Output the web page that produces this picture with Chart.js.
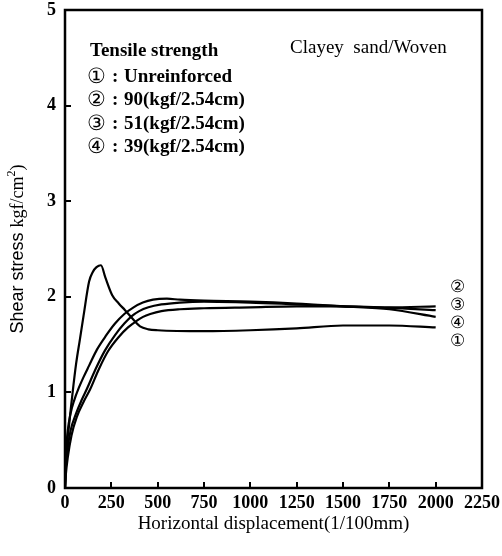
<!DOCTYPE html>
<html>
<head>
<meta charset="utf-8">
<script src="https://cdn.jsdelivr.net/npm/chart.js@4.4.1/dist/chart.umd.min.js"></script>
<style>
  html, body { margin: 0; padding: 0; background: #fff; }
  canvas { display: block; }
</style>
</head>
<body>
<canvas id="shearChart" width="502" height="556"></canvas>
<script>
// tick values
const xTicks = [0, 250, 500, 750, 1000, 1250, 1500, 1750, 2000, 2250];
const yTicks = [0, 1, 2, 3, 4, 5];

// (1) unreinforced
const dispUnreinforced = [0, 5, 20, 40, 60, 80, 100, 130, 150, 170, 194, 218, 254, 290, 324, 360, 405, 450, 500, 750, 1000, 1250, 1500, 1750, 2000];
const stressUnreinforced = [0, 0.3, 0.62, 0.98, 1.3, 1.55, 1.8, 2.16, 2.26, 2.31, 2.33, 2.2, 2.02, 1.93, 1.86, 1.78, 1.69, 1.66, 1.65, 1.64, 1.65, 1.67, 1.70, 1.70, 1.68];

// (2) 90 kgf/2.54cm
const disp90 = [0, 5, 15, 35, 65, 100, 135, 182, 232, 290, 340, 388, 421, 460, 520, 620, 750, 1000, 1250, 1500, 1750, 2000];
const stress90 = [0, 0.15, 0.32, 0.55, 0.75, 0.9, 1.03, 1.24, 1.43, 1.58, 1.68, 1.75, 1.79, 1.82, 1.85, 1.87, 1.88, 1.89, 1.90, 1.90, 1.89, 1.90];

// (3) 51 kgf/2.54cm
const disp51 = [0, 5, 15, 30, 60, 90, 119, 164, 216, 270, 320, 362, 400, 450, 520, 620, 750, 1000, 1250, 1500, 1750, 2000];
const stress51 = [0, 0.22, 0.42, 0.6, 0.78, 0.92, 1.04, 1.24, 1.44, 1.60, 1.72, 1.80, 1.85, 1.89, 1.92, 1.94, 1.95, 1.94, 1.92, 1.90, 1.885, 1.86];

// (4) 39 kgf/2.54cm
const disp39 = [0, 5, 15, 30, 50, 75, 100, 130, 173, 220, 270, 320, 370, 420, 475, 550, 620, 750, 1000, 1250, 1500, 1750, 2000];
const stress39 = [0, 0.35, 0.6, 0.78, 0.92, 1.05, 1.16, 1.28, 1.45, 1.59, 1.72, 1.82, 1.89, 1.94, 1.97, 1.98, 1.97, 1.96, 1.95, 1.93, 1.90, 1.87, 1.79];

const legendMarks = ['\u2460', '\u2461', '\u2462', '\u2463'];
const legendTexts = ['Unreinforced', '90(kgf/2.54cm)', '51(kgf/2.54cm)', '39(kgf/2.54cm)'];
const endLabels = ['\u2461', '\u2462', '\u2463', '\u2460'];

const serif = '"Liberation Serif", "Times New Roman", serif';
const sans = '"Liberation Sans", Arial, sans-serif';

function toPoints(xs, ys) {
  return xs.map((v, i) => ({ x: v, y: ys[i] }));
}

function makeSet(label, xs, ys) {
  return {
    label: label,
    data: toPoints(xs, ys),
    borderColor: '#000',
    borderWidth: 2.2,
    pointRadius: 0,
    fill: false,
    cubicInterpolationMode: 'monotone'
  };
}

// box, inward ticks and all the text
const decorations = {
  id: 'decorations',
  afterDraw(chart) {
    const ctx = chart.ctx;
    const a = chart.chartArea;
    const x = chart.scales.x;
    const y = chart.scales.y;
    ctx.save();
    ctx.strokeStyle = '#000';
    ctx.lineWidth = 2.5;
    ctx.strokeRect(a.left, a.top, a.right - a.left, a.bottom - a.top);

    ctx.lineWidth = 2;
    ctx.beginPath();
    xTicks.forEach(v => {
      if (v <= 0 || v >= 2250) return;
      const px = Math.round(x.getPixelForValue(v));
      ctx.moveTo(px, a.bottom);
      ctx.lineTo(px, a.bottom - 6);
    });
    yTicks.forEach(v => {
      if (v <= 0 || v >= 5) return;
      const py = Math.round(y.getPixelForValue(v));
      ctx.moveTo(a.left, py);
      ctx.lineTo(a.left + 6, py);
    });
    ctx.stroke();

    ctx.fillStyle = '#000';
    ctx.textBaseline = 'middle';
    ctx.textAlign = 'left';

    ctx.font = 'bold 19px ' + serif;
    ctx.fillText('Tensile strength', 90, 51);
    legendTexts.forEach((t, i) => {
      const ly = 77 + i * 23.5;
      ctx.font = '21px ' + serif;
      ctx.fillText(legendMarks[i], 87, ly);
      ctx.font = 'bold 19px ' + serif;
      ctx.fillText(':', 112, ly);
      ctx.fillText(t, 124, ly);
    });
    ctx.font = '19px ' + serif;
    ctx.fillText('Clayey  sand/Woven', 290, 48);

    ctx.font = '17px ' + serif;
    ctx.textAlign = 'center';
    endLabels.forEach((t, i) => ctx.fillText(t, 457, 288 + i * 18));

    // x title
    ctx.font = '19px ' + serif;
    ctx.fillText('Horizontal displacement(1/100mm)', (a.left + a.right) / 2, 524);

    // y title, rotated
    ctx.translate(18, (a.top + a.bottom) / 2);
    ctx.rotate(-Math.PI / 2);
    const parts = [
      { t: 'Shear stress ', f: '18px ' + sans, dy: 0 },
      { t: 'kgf/cm', f: '18px ' + serif, dy: 0 },
      { t: '2', f: '12px ' + serif, dy: -6 },
      { t: ')', f: '18px ' + serif, dy: 0 }
    ];
    let total = 0;
    parts.forEach(p => { ctx.font = p.f; p.w = ctx.measureText(p.t).width; total += p.w; });
    let cx = -total / 2;
    ctx.textAlign = 'left';
    parts.forEach(p => {
      ctx.font = p.f;
      ctx.fillText(p.t, cx, p.dy);
      cx += p.w;
    });
    ctx.restore();
  }
};

new Chart(document.getElementById('shearChart'), {
  type: 'line',
  data: {
    datasets: [
      makeSet('Unreinforced', dispUnreinforced, stressUnreinforced),
      makeSet('90(kgf/2.54cm)', disp90, stress90),
      makeSet('51(kgf/2.54cm)', disp51, stress51),
      makeSet('39(kgf/2.54cm)', disp39, stress39)
    ]
  },
  options: {
    responsive: false,
    animation: false,
    devicePixelRatio: 1,
    layout: { padding: { left: 0, right: 20, top: 10, bottom: 0 } },
    plugins: {
      legend: { display: false },
      tooltip: { enabled: false }
    },
    scales: {
      x: {
        type: 'linear',
        min: 0,
        max: 2250,
        afterBuildTicks: s => { s.ticks = xTicks.map(v => ({ value: v })); },
        afterFit: s => { s.height = 68; s.paddingLeft = 0; s.paddingRight = 0; },
        grid: { display: false, drawTicks: false, tickLength: 0 },
        border: { display: false },
        ticks: {
          padding: 5,
          maxRotation: 0,
          autoSkip: false,
          color: '#000',
          font: { family: serif, size: 18, weight: 'bold' },
          callback: v => String(v)
        }
      },
      y: {
        type: 'linear',
        min: 0,
        max: 5,
        afterBuildTicks: s => { s.ticks = yTicks.map(v => ({ value: v })); },
        afterFit: s => { s.width = 65; s.paddingTop = 0; s.paddingBottom = 0; },
        grid: { display: false, drawTicks: false, tickLength: 0 },
        border: { display: false },
        ticks: {
          padding: 9,
          color: '#000',
          font: { family: serif, size: 18, weight: 'bold' },
          callback: v => String(v)
        }
      }
    }
  },
  plugins: [decorations]
});
</script>
</body>
</html>
